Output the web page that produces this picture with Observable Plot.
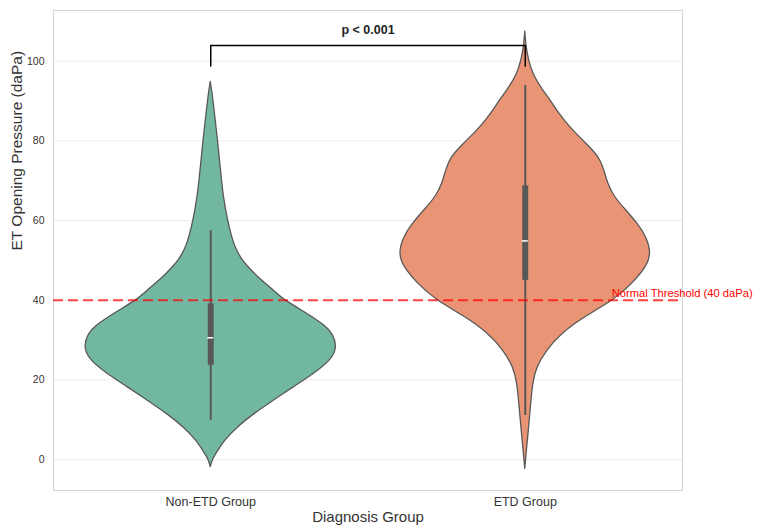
<!DOCTYPE html>
<html>
<head>
<meta charset="utf-8">
<script src="https://cdn.jsdelivr.net/npm/d3@7"></script>
<script src="https://cdn.jsdelivr.net/npm/@observablehq/plot@0.6"></script>
<style>
  html, body { margin: 0; padding: 0; background: #ffffff; overflow: hidden; }
  #chart { width: 757px; height: 529px; }
</style>
</head>
<body>
<div id="chart"></div>
<script>
// ---- Data ----
const categories = ["Non-ETD Group", "ETD Group"];

// Violin outlines: pressure value (daPa) and relative density (max = 1)
const nonEtdY = [-1.85, 0, 1.5, 4.8, 8.2, 11.5, 14.9, 18.2, 21.6, 24.9, 28.3, 31.6, 33.3, 36.6, 40.0, 42.5, 45.8, 48.3, 50, 53, 55, 58.4, 62.6, 66.7, 73, 80, 87.7, 92, 94.8];
const nonEtdDensity = [0, 0.016, 0.045, 0.11, 0.215, 0.346, 0.504, 0.661, 0.825, 0.96, 1.01, 0.97, 0.925, 0.77, 0.585, 0.5, 0.375, 0.3, 0.252, 0.2, 0.178, 0.148, 0.122, 0.1, 0.08, 0.058, 0.03, 0.014, 0];

const etdY = [-2.3, 2, 6.5, 13.2, 19.1, 23.2, 27.4, 31.6, 35.8, 40.0, 44.2, 48.3, 51.7, 55.9, 59.2, 62.6, 65.9, 69.3, 72.6, 75.9, 79.3, 82.6, 85, 87.6, 90, 93, 96.4, 100.2, 104, 107.4];
const etdDensity = [0, 0.012, 0.026, 0.045, 0.061, 0.092, 0.171, 0.289, 0.472, 0.709, 0.856, 0.965, 1.005, 0.965, 0.895, 0.801, 0.709, 0.656, 0.63, 0.591, 0.486, 0.38, 0.315, 0.252, 0.205, 0.134, 0.067, 0.028, 0.008, 0];

// Inner box statistics per group
const whiskerLow = [9.9, 11.1];
const whiskerHigh = [57.5, 93.9];
const q1 = [23.7, 45.0];
const q3 = [39.1, 68.7];
const medians = [30.6, 54.9];

const yTicks = [0, 20, 40, 60, 80, 100];
const threshold = 40;
const thresholdLabel = "Normal Threshold (40 daPa)";
const pLabel = "p < 0.001";
const bracketTop = 103.9;
const bracketBottom = 98.8;

// ---- Build tables ----
const halfWidth = 0.4;
function violinRows(ys, ds, i) {
  return ys.map((y, k) => ({y, x1: i - ds[k] * halfWidth, x2: i + ds[k] * halfWidth}));
}
const nonEtdRows = violinRows(nonEtdY, nonEtdDensity, 0);
const etdRows = violinRows(etdY, etdDensity, 1);
const stats = categories.map((c, i) => ({
  x: i, lo: whiskerLow[i], hi: whiskerHigh[i], q1: q1[i], q3: q3[i], med: medians[i]
}));
const boxHalf = 0.0095;
const bracket = [
  {x: 0, y: bracketBottom}, {x: 0, y: bracketTop},
  {x: 1, y: bracketTop}, {x: 1, y: bracketBottom}
];

const font = "'Liberation Sans', Arial, Helvetica, sans-serif";
const outline = "#585858";
const boxColor = "#585858";

const chart = Plot.plot({
  width: 757,
  height: 529,
  marginLeft: 53,
  marginRight: 75,
  marginTop: 10,
  marginBottom: 39,
  style: {fontFamily: font, background: "#ffffff", color: "#333333", overflow: "visible"},
  x: {domain: [-0.5, 1.5], axis: null},
  y: {domain: [-7.71, 112.7], axis: null},
  marks: [
    Plot.gridY(yTicks, {stroke: "#ebebeb", strokeOpacity: 1, strokeWidth: 1}),
    Plot.frame({stroke: "#d6d6d6", strokeWidth: 1.2}),
    Plot.areaX(nonEtdRows, {y: "y", x1: "x1", x2: "x2", fill: "#72b7a1", stroke: outline, strokeWidth: 1.3, curve: "basis"}),
    Plot.areaX(etdRows, {y: "y", x1: "x1", x2: "x2", fill: "#e99575", stroke: outline, strokeWidth: 1.3, curve: "basis"}),
    Plot.ruleX(stats, {x: "x", y1: "lo", y2: "hi", stroke: boxColor, strokeWidth: 2}),
    Plot.ruleX(stats, {x: "x", y1: "q1", y2: "q3", stroke: boxColor, strokeWidth: 6}),
    Plot.ruleY(stats, {y: "med", x1: d => d.x - boxHalf, x2: d => d.x + boxHalf, stroke: "#ffffff", strokeWidth: 1.5}),
    Plot.ruleY([threshold], {stroke: "#ff0000", strokeOpacity: 0.72, strokeWidth: 2, strokeDasharray: "10,5"}),
    Plot.text([thresholdLabel], {x: 1.275, y: threshold + 1.8, text: d => d, textAnchor: "start", fill: "#ff0000", fontSize: 11.2, clip: false}),
    Plot.line(bracket, {x: "x", y: "y", stroke: "#000000", strokeWidth: 1.5}),
    Plot.text([pLabel], {x: 0.5, y: bracketTop + 3.8, text: d => d, fontWeight: "bold", fontSize: 12.5, fill: "#222222"}),
    Plot.axisY(yTicks, {tickSize: 0, tickPadding: 9, fontSize: 10.5, label: null, fill: "#333333"}),
    Plot.axisX([0, 1], {tickSize: 0, tickPadding: 7, fontSize: 12.5, label: null, tickFormat: d => categories[d], fill: "#333333"}),
    Plot.text(["ET Opening Pressure (daPa)"], {frameAnchor: "left", dx: -36, rotate: -90, text: d => d, fontSize: 15.5, fill: "#333333"}),
    Plot.text(["Diagnosis Group"], {frameAnchor: "bottom", dy: 31, text: d => d, fontSize: 15, fill: "#333333"})
  ]
});
document.getElementById("chart").appendChild(chart);
</script>
</body>
</html>
